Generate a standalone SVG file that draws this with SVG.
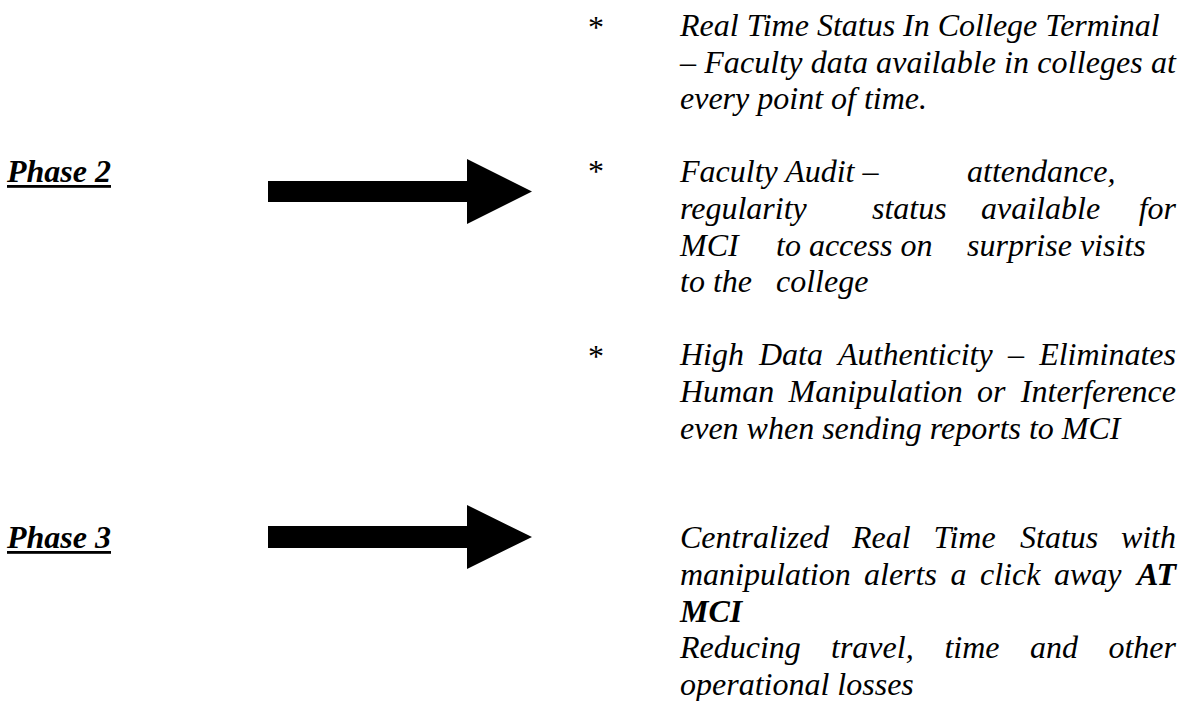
<svg xmlns="http://www.w3.org/2000/svg" width="1185" height="701" viewBox="0 0 1185 701">
<style>
.t{font-family:"Liberation Serif","Times New Roman",serif;font-size:32px;font-style:italic;fill:#000}
.b{font-weight:bold}
.ast{font-family:"Liberation Serif","Times New Roman",serif;font-size:32px;fill:#000}
.ph{font-family:"Liberation Serif","Times New Roman",serif;font-size:32px;font-style:italic;font-weight:bold;fill:#000}
.e{text-anchor:end}
</style>
<rect width="1185" height="701" fill="#fff"/>
<g id="phase2">
<text class="ph" x="7" y="182.4">Phase 2</text>
<rect x="7" y="185" width="104" height="2.8" fill="#000"/>
</g>
<g id="phase3">
<text class="ph" x="7" y="548.4">Phase 3</text>
<rect x="7" y="551" width="104" height="2.8" fill="#000"/>
</g>
<g id="connectors">
<polygon points="268,181 467,181 467,159 532,191.5 467,224 467,202 268,202" fill="#000"/>
<polygon points="268,526 467,526 467,505 532,537 467,569 467,548 268,548" fill="#000"/>
</g>
<g id="bullet1">
<text class="ast" x="588" y="38">*</text>
<text class="t" x="680" y="36">Real Time Status In College Terminal</text>
<text class="t" x="680" y="72.6" textLength="496" lengthAdjust="spacing">– Faculty data available in colleges at</text>
<text class="t" x="680" y="109.2">every point of time.</text>
</g>
<g id="bullet2">
<text class="ast" x="588" y="182.4">*</text>
<text class="t" x="680" y="182.4">Faculty Audit –</text>
<text class="t" x="967" y="182.4">attendance,</text>
<text class="t" x="680" y="219">regularity</text>
<text class="t" x="872" y="219">status</text>
<text class="t" x="981" y="219">available</text>
<text class="t e" x="1176" y="219">for</text>
<text class="t" x="680" y="255.6">MCI</text>
<text class="t" x="776" y="255.6">to access on</text>
<text class="t" x="967" y="255.6">surprise visits</text>
<text class="t" x="680" y="292.2">to the</text>
<text class="t" x="776" y="292.2">college</text>
</g>
<g id="bullet3">
<text class="ast" x="588" y="367">*</text>
<text class="t" x="680" y="365.4">High</text>
<text class="t" x="759" y="365.4">Data</text>
<text class="t" x="838" y="365.4">Authenticity</text>
<text class="t" x="1008" y="365.4">–</text>
<text class="t e" x="1176" y="365.4">Eliminates</text>
<text class="t" x="680" y="402">Human</text>
<text class="t" x="788.5" y="402">Manipulation</text>
<text class="t" x="977" y="402">or</text>
<text class="t e" x="1176" y="402">Interference</text>
<text class="t" x="680" y="438.6">even when sending reports to MCI</text>
</g>
<g id="phase3-text">
<text class="t" x="680" y="548.4">Centralized</text>
<text class="t" x="852" y="548.4">Real</text>
<text class="t" x="933.4" y="548.4">Time</text>
<text class="t" x="1020" y="548.4">Status</text>
<text class="t e" x="1176" y="548.4">with</text>
<text class="t" x="680" y="585">manipulation</text>
<text class="t" x="864" y="585">alerts</text>
<text class="t" x="950.6" y="585">a</text>
<text class="t" x="980" y="585">click</text>
<text class="t" x="1054" y="585">away</text>
<text class="t b e" x="1176" y="585">AT</text>
<text class="t b" x="680" y="621.6">MCI</text>
<text class="t" x="680" y="658.2">Reducing</text>
<text class="t" x="831" y="658.2">travel,</text>
<text class="t" x="944.4" y="658.2">time</text>
<text class="t" x="1030" y="658.2">and</text>
<text class="t e" x="1176" y="658.2">other</text>
<text class="t" x="680" y="694.8">operational losses</text>
</g>
</svg>
